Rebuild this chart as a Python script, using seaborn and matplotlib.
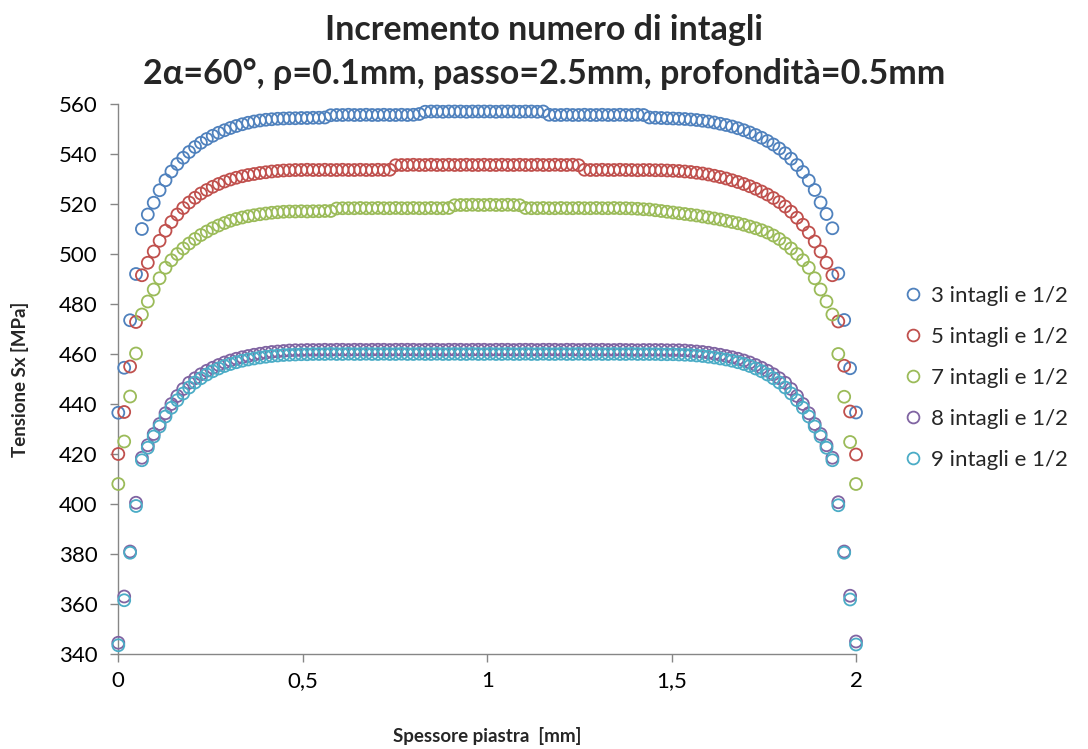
import matplotlib
matplotlib.use("Agg")
import matplotlib.pyplot as plt
import seaborn as sns
import pandas as pd
from matplotlib.lines import Line2D

# ---- data ----
spessore_mm = [
    0.0, 0.016, 0.032, 0.048, 0.064, 0.08, 0.096, 0.112, 0.128, 0.144,
    0.16, 0.176, 0.192, 0.208, 0.224, 0.24, 0.256, 0.272, 0.288, 0.304,
    0.32, 0.336, 0.352, 0.368, 0.384, 0.4, 0.416, 0.432, 0.448, 0.464,
    0.48, 0.496, 0.512, 0.528, 0.544, 0.56, 0.576, 0.592, 0.608, 0.624,
    0.64, 0.656, 0.672, 0.688, 0.704, 0.72, 0.736, 0.752, 0.768, 0.784,
    0.8, 0.816, 0.832, 0.848, 0.864, 0.88, 0.896, 0.912, 0.928, 0.944,
    0.96, 0.976, 0.992, 1.008, 1.024, 1.04, 1.056, 1.072, 1.088, 1.104,
    1.12, 1.136, 1.152, 1.168, 1.184, 1.2, 1.216, 1.232, 1.248, 1.264,
    1.28, 1.296, 1.312, 1.328, 1.344, 1.36, 1.376, 1.392, 1.408, 1.424,
    1.44, 1.456, 1.472, 1.488, 1.504, 1.52, 1.536, 1.552, 1.568, 1.584,
    1.6, 1.616, 1.632, 1.648, 1.664, 1.68, 1.696, 1.712, 1.728, 1.744,
    1.76, 1.776, 1.792, 1.808, 1.824, 1.84, 1.856, 1.872, 1.888, 1.904,
    1.92, 1.936, 1.952, 1.968, 1.984, 2.0,
]

sx_3_intagli = [
    436.5, 454.5, 473.5, 492.0, 510.0, 515.8, 520.5, 525.5, 529.5, 533.0,
    536.0, 538.5, 540.8, 542.8, 544.5, 546.0, 547.3, 548.5, 549.5, 550.4,
    551.2, 551.9, 552.5, 553.0, 553.4, 553.7, 553.9, 554.1, 554.2, 554.3,
    554.3, 554.4, 554.4, 554.5, 554.5, 554.6, 555.5, 555.6, 555.6, 555.7,
    555.6, 555.6, 555.7, 555.6, 555.6, 555.7, 555.6, 555.6, 555.7, 555.6,
    555.7, 556.0, 556.9, 557.0, 557.0, 556.9, 557.0, 557.0, 557.0, 556.9,
    557.0, 557.0, 557.0, 557.0, 556.9, 557.0, 557.0, 557.0, 556.9, 557.0,
    557.0, 556.9, 557.0, 555.7, 555.6, 555.6, 555.7, 555.6, 555.6, 555.7,
    555.6, 555.6, 555.7, 555.6, 555.6, 555.7, 555.6, 555.6, 555.7, 555.6,
    554.6, 554.5, 554.4, 554.3, 554.2, 554.1, 554.0, 553.8, 553.6, 553.3,
    553.0, 552.6, 552.1, 551.6, 551.0, 550.3, 549.5, 548.6, 547.6, 546.5,
    545.2, 543.8, 542.2, 540.3, 538.1, 535.6, 532.8, 529.4, 525.6, 520.6,
    516.0, 510.3, 492.2, 473.6, 454.3, 436.6,
]

sx_5_intagli = [
    420.0, 436.8, 455.0, 472.8, 491.5, 496.5, 501.0, 505.3, 509.3, 512.8,
    515.8, 518.4, 520.6, 522.5, 524.2, 525.6, 526.9, 528.0, 529.0, 529.8,
    530.5, 531.1, 531.6, 532.0, 532.4, 532.7, 533.0, 533.2, 533.4, 533.5,
    533.6, 533.6, 533.7, 533.6, 533.6, 533.7, 533.6, 533.6, 533.7, 533.6,
    533.6, 533.7, 533.6, 533.6, 533.7, 533.6, 533.7, 535.5, 535.6, 535.6,
    535.7, 535.6, 535.6, 535.7, 535.6, 535.6, 535.7, 535.6, 535.6, 535.7,
    535.6, 535.6, 535.7, 535.6, 535.6, 535.7, 535.6, 535.6, 535.7, 535.6,
    535.6, 535.7, 535.6, 535.6, 535.7, 535.6, 535.6, 535.7, 535.5, 533.7,
    533.6, 533.6, 533.7, 533.6, 533.6, 533.7, 533.6, 533.6, 533.5, 533.6,
    533.6, 533.5, 533.5, 533.4, 533.3, 533.2, 533.0, 532.8, 532.5, 532.2,
    531.8, 531.3, 530.8, 530.2, 529.5, 528.8, 528.0, 527.1, 526.1, 525.0,
    523.8, 522.4, 520.8, 519.0, 516.9, 514.5, 511.7, 508.6, 505.0, 501.0,
    496.5, 491.5, 473.0, 455.3, 437.0, 419.8,
]

sx_7_intagli = [
    408.0, 425.0, 443.0, 460.2, 475.8, 481.0, 485.8, 490.3, 494.5, 497.5,
    500.0, 502.2, 504.2, 506.0, 507.6, 509.0, 510.3, 511.4, 512.4, 513.3,
    514.0, 514.6, 515.1, 515.5, 515.9, 516.2, 516.5, 516.7, 516.9, 517.0,
    517.0, 517.1, 517.0, 517.1, 517.1, 517.2, 517.2, 518.2, 518.3, 518.3,
    518.3, 518.4, 518.3, 518.3, 518.4, 518.3, 518.3, 518.4, 518.3, 518.3,
    518.4, 518.3, 518.3, 518.4, 518.3, 518.3, 518.4, 519.5, 519.6, 519.6,
    519.7, 519.6, 519.6, 519.7, 519.6, 519.6, 519.7, 519.6, 519.5, 518.4,
    518.3, 518.3, 518.4, 518.3, 518.3, 518.4, 518.3, 518.3, 518.4, 518.3,
    518.3, 518.4, 518.3, 518.3, 518.4, 518.3, 518.3, 518.2, 518.1, 517.9,
    517.8, 517.5, 517.2, 516.9, 516.6, 516.3, 516.0, 515.7, 515.4, 515.0,
    514.6, 514.2, 513.8, 513.3, 512.8, 512.3, 511.7, 511.0, 510.3, 509.5,
    508.6, 507.4, 506.0, 504.2, 502.2, 500.0, 497.5, 494.5, 490.3, 485.8,
    481.0, 475.8, 460.0, 442.9, 424.8, 408.0,
]

sx_8_intagli = [
    344.5, 363.0, 381.0, 400.5, 418.5, 423.5, 428.0, 432.0, 436.3, 440.0,
    443.2, 446.0, 448.5, 450.3, 451.9, 453.3, 454.5, 455.6, 456.6, 457.4,
    458.1, 458.7, 459.2, 459.7, 460.1, 460.5, 460.8, 461.0, 461.2, 461.4,
    461.5, 461.5, 461.6, 461.6, 461.6, 461.7, 461.6, 461.7, 461.7, 461.6,
    461.7, 461.7, 461.6, 461.7, 461.7, 461.7, 461.6, 461.7, 461.7, 461.7,
    461.7, 461.6, 461.7, 461.7, 461.7, 461.6, 461.7, 461.7, 461.7, 461.6,
    461.7, 461.7, 461.7, 461.6, 461.7, 461.7, 461.7, 461.6, 461.7, 461.7,
    461.7, 461.6, 461.7, 461.7, 461.7, 461.6, 461.7, 461.7, 461.6, 461.7,
    461.7, 461.6, 461.7, 461.6, 461.6, 461.7, 461.6, 461.6, 461.5, 461.6,
    461.6, 461.6, 461.6, 461.5, 461.5, 461.5, 461.4, 461.2, 461.0, 460.8,
    460.5, 460.1, 459.7, 459.2, 458.7, 458.1, 457.4, 456.6, 455.6, 454.5,
    453.3, 451.9, 450.3, 448.5, 446.0, 443.2, 440.0, 436.3, 432.0, 428.0,
    423.5, 418.5, 400.7, 381.0, 363.3, 345.0,
]

sx_9_intagli = [
    343.5, 361.5, 380.5, 399.2, 417.5, 422.5, 427.0, 431.0, 435.0, 438.5,
    441.5, 444.2, 446.6, 448.6, 450.3, 451.8, 453.1, 454.2, 455.2, 456.0,
    456.7, 457.3, 457.8, 458.2, 458.6, 458.9, 459.2, 459.4, 459.6, 459.7,
    459.8, 459.9, 459.9, 460.0, 460.0, 460.0, 460.1, 460.0, 460.0, 460.1,
    460.0, 460.0, 460.1, 460.0, 460.0, 460.1, 460.0, 460.0, 460.1, 460.0,
    460.0, 460.1, 460.0, 460.0, 460.1, 460.0, 460.0, 460.1, 460.0, 460.0,
    460.1, 460.0, 460.0, 460.1, 460.0, 460.0, 460.1, 460.0, 460.0, 460.1,
    460.0, 460.0, 460.1, 460.0, 460.0, 460.1, 460.0, 460.0, 460.1, 460.0,
    460.0, 460.1, 460.0, 460.0, 460.1, 460.0, 460.0, 460.1, 460.0, 460.0,
    460.0, 460.0, 459.9, 459.9, 459.9, 459.8, 459.7, 459.6, 459.4, 459.2,
    458.9, 458.6, 458.2, 457.8, 457.3, 456.7, 456.0, 455.2, 454.2, 453.1,
    451.8, 450.3, 448.6, 446.6, 444.2, 441.5, 438.5, 435.0, 431.0, 427.0,
    422.5, 417.5, 399.5, 380.5, 361.8, 343.8,
]

series_labels = ["3 intagli e 1/2", "5 intagli e 1/2", "7 intagli e 1/2",
                 "8 intagli e 1/2", "9 intagli e 1/2"]
series_colors = ["#4F81BD", "#C0504D", "#9BBB59", "#8064A2", "#4BACC6"]
x_ticks = [0, 0.5, 1, 1.5, 2]
x_tick_labels = ["0", "0,5", "1", "1,5", "2"]
y_ticks = [340, 360, 380, 400, 420, 440, 460, 480, 500, 520, 540, 560]

all_series = [sx_3_intagli, sx_5_intagli, sx_7_intagli, sx_8_intagli, sx_9_intagli]
frames = []
for lab, vals in zip(series_labels, all_series):
    assert len(vals) == len(spessore_mm), (lab, len(vals))
    frames.append(pd.DataFrame({"x": spessore_mm, "y": vals, "serie": lab}))
df = pd.concat(frames, ignore_index=True)

# ---- figure ----
sns.set_style("white")
plt.rcParams["font.family"] = ["Lato", "DejaVu Sans"]

fig = plt.figure(figsize=(10.88, 7.49), dpi=100)
ax = fig.add_axes([118.3 / 1088, 95 / 749, (856 - 118.3) / 1088, 550 / 749])

for lab, col in zip(series_labels, series_colors):
    n_before = len(ax.collections)
    sns.scatterplot(data=df[df["serie"] == lab], x="x", y="y", ax=ax,
                    marker="o", s=74, color=col, legend=False, zorder=3)
    for coll in ax.collections[n_before:]:
        coll.set_facecolor("none")
        coll.set_edgecolor(col)
        coll.set_linewidth(1.3)
        coll.set_clip_on(False)

ax.set_xlim(0, 2)
ax.set_ylim(340, 560)
ax.set_xticks(x_ticks)
ax.set_xticklabels(x_tick_labels)
ax.set_yticks(y_ticks)

for s in ["top", "right"]:
    ax.spines[s].set_visible(False)
for s in ["left", "bottom"]:
    ax.spines[s].set_color("#868686")
    ax.spines[s].set_linewidth(1.0)
ax.tick_params(axis="both", which="major", direction="out", length=6,
               width=1.0, color="#868686", labelsize=16, labelcolor="black",
               left=True, bottom=True)
ax.tick_params(axis="y", pad=9)
ax.tick_params(axis="x", pad=6)

ax.set_xlabel("Spessore piastra  [mm]", fontsize=13.5, fontweight="bold")
ax.set_ylabel("Tensione Sx [MPa]", fontsize=13.5, fontweight="bold")
ax.xaxis.set_label_coords(0.5, (654 - 727) / 550)
ax.yaxis.set_label_coords((29 - 118.3) / 737.7, 0.5)

fig.text(0.5, 1 - 30 / 749, "Incremento numero di intagli", ha="center",
         va="center", fontsize=24.5, fontweight="bold")
fig.text(0.5, 1 - 74 / 749, "2α=60°, ρ=0.1mm, passo=2.5mm, profondità=0.5mm",
         ha="center", va="center", fontsize=24.5, fontweight="bold")

handles = [Line2D([0], [0], marker="o", linestyle="none", markersize=8.5,
                  markerfacecolor="none", markeredgecolor=c, markeredgewidth=1.3)
           for c in series_colors]
ax.legend(handles, series_labels, loc="center left",
          bbox_to_anchor=(902 / 1088, 1 - 378 / 749), bbox_transform=fig.transFigure,
          frameon=False, fontsize=16, handlelength=1.0, handletextpad=0.3,
          labelspacing=0.95, borderaxespad=0, borderpad=0)

fig.savefig("out.png", dpi=100)
